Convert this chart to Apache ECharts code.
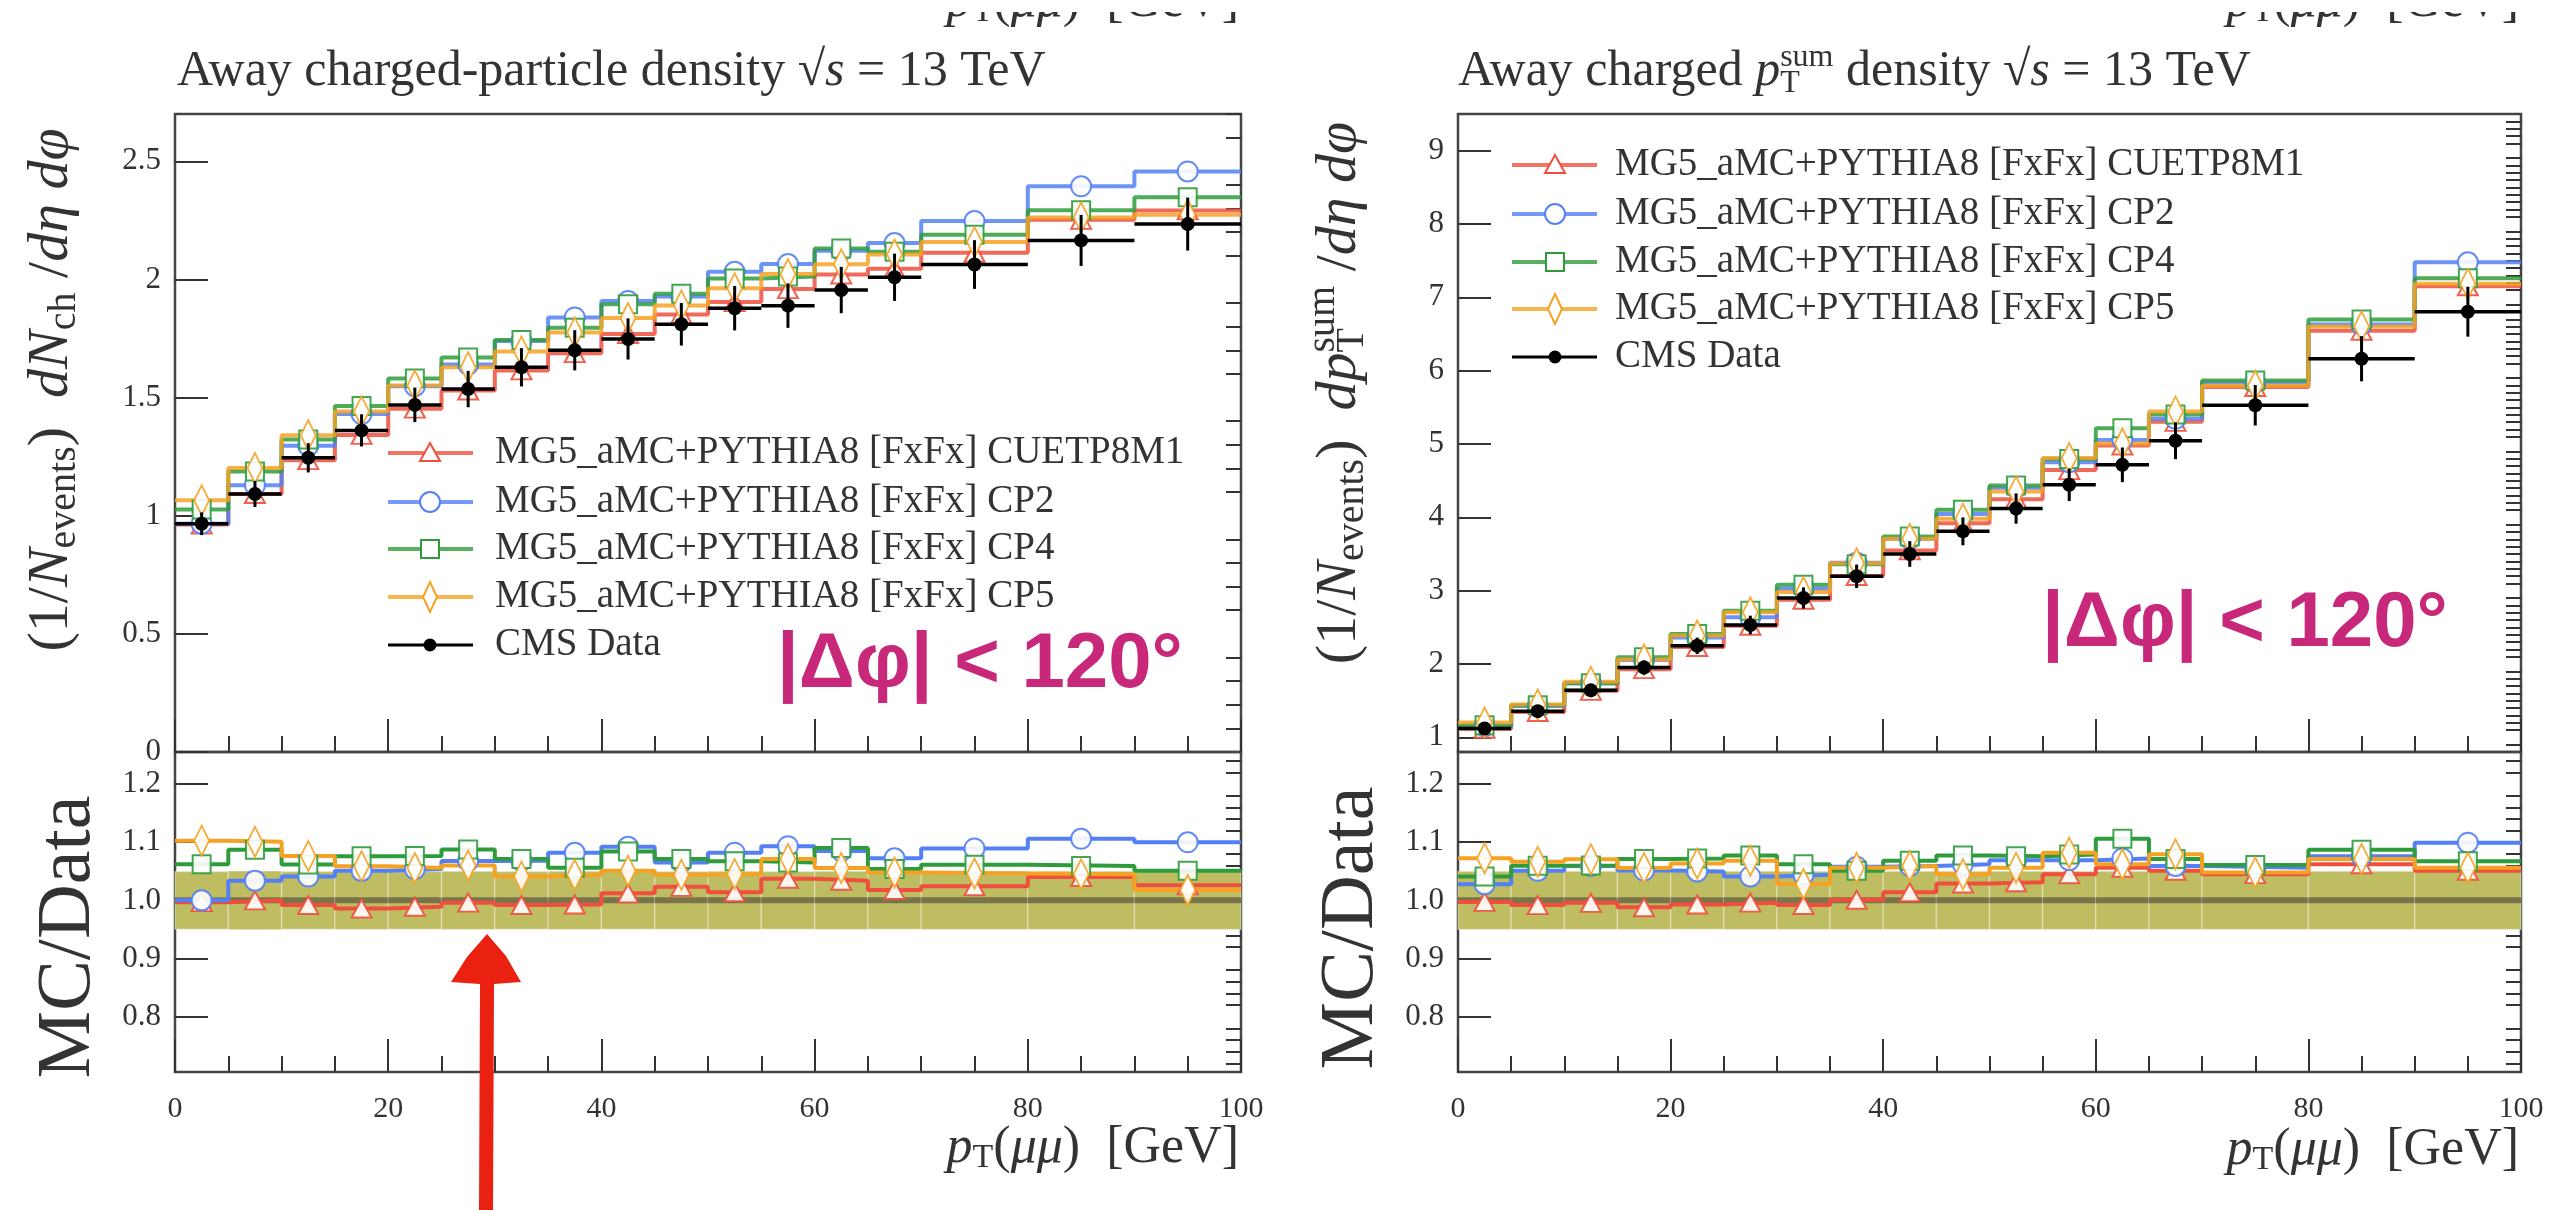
<!DOCTYPE html>
<html><head><meta charset="utf-8">
<script src="https://cdn.jsdelivr.net/npm/echarts@6/dist/echarts.min.js"></script>
<style>html,body{margin:0;padding:0;background:#fff}#c{width:2574px;height:1210px}</style>
</head><body><div id="c"></div>
<script>
// ---------- DATA ----------
const binEdges = [0,5,10,15,20,25,30,35,40,45,50,55,60,65,70,80,90,100];
const mcNames = ['MG5_aMC+PYTHIA8 [FxFx] CUETP8M1','MG5_aMC+PYTHIA8 [FxFx] CP2','MG5_aMC+PYTHIA8 [FxFx] CP4','MG5_aMC+PYTHIA8 [FxFx] CP5'];
const dataName = 'CMS Data';

// Left: away charged-particle density
const nchData    = [0.966,1.092,1.245,1.361,1.469,1.536,1.628,1.700,1.748,1.810,1.878,1.889,1.955,2.009,2.063,2.165,2.234];
const nchDataErr = [0.048,0.055,0.062,0.068,0.073,0.077,0.081,0.085,0.087,0.090,0.094,0.094,0.098,0.100,0.103,0.108,0.112];
const nchCUETP8M1 = [0.963,1.092,1.235,1.342,1.453,1.530,1.615,1.688,1.769,1.852,1.904,1.959,2.021,2.045,2.113,2.252,2.292];
const nchCP2      = [0.966,1.129,1.296,1.430,1.548,1.640,1.739,1.839,1.909,1.928,2.032,2.065,2.121,2.154,2.247,2.394,2.457];
const nchCP4      = [1.026,1.187,1.322,1.464,1.581,1.670,1.744,1.795,1.895,1.939,2.004,2.012,2.131,2.117,2.189,2.293,2.348];
const nchCP5      = [1.065,1.202,1.340,1.441,1.551,1.628,1.695,1.775,1.837,1.890,1.963,2.023,2.064,2.105,2.158,2.262,2.274];

// Right: away charged pT-sum density
const ptsData    = [1.120,1.357,1.641,1.953,2.248,2.532,2.900,3.196,3.500,3.809,4.120,4.444,4.716,5.045,5.528,6.163,6.804];
const ptsDataErr = [0.056,0.068,0.082,0.098,0.112,0.127,0.145,0.160,0.175,0.190,0.206,0.222,0.236,0.252,0.276,0.308,0.340];
const ptsCUETP8M1 = [1.117,1.346,1.634,1.930,2.232,2.522,2.877,3.199,3.549,3.919,4.248,4.644,4.980,5.302,5.777,6.545,7.151];
const ptsCP2      = [1.151,1.426,1.738,2.053,2.360,2.636,3.028,3.381,3.707,4.045,4.404,4.751,5.056,5.343,5.838,6.631,7.478];
const ptsCP4      = [1.166,1.438,1.739,2.092,2.410,2.727,3.080,3.359,3.738,4.102,4.433,4.795,5.216,5.403,5.865,6.699,7.260];
const ptsCP5      = [1.201,1.447,1.757,2.062,2.390,2.704,2.981,3.375,3.707,3.980,4.351,4.808,5.008,5.444,5.793,6.601,7.185];

// Axis ticks / labels
const xTicks = [0,20,40,60,80,100];
const nchMajor = [0,0.5,1,1.5,2,2.5];
const ptsMajor = [1,2,3,4,5,6,7,8,9];
const ratioMajor = [0.8,0.9,1.0,1.1,1.2];

// ---------- STYLE ----------
const colors = ['#ef4f3c','#5380f5','#2f9c3b','#f5a224'];
const symbols = ['triangle','circle','rect','diamond'];
const symSizes = [[20,18],20,18,[15,30]];
const serif = 'Liberation Serif';
const txt = '#333';

const grids = [
  {left:175, top:114, width:1066, height:638},
  {left:175, top:752, width:1066, height:320},
  {left:1458, top:114, width:1063, height:638},
  {left:1458, top:752, width:1063, height:320}
];
const yRanges = [[0,2.7],[0.705,1.255],[0.8,9.5],[0.705,1.255]];

function range(a,b,s){const r=[];for(let v=a;v<=b+1e-9;v+=s){r.push(+v.toFixed(4));}return r;}
const minorVals = [
  range(0.1,2.7,0.1).filter(v=>!nchMajor.some(m=>Math.abs(m-v)<1e-6)),
  range(0.72,1.24,0.02).filter(v=>!ratioMajor.some(m=>Math.abs(m-v)<1e-6)),
  range(0.9,9.4,0.1).filter(v=>!ptsMajor.some(m=>Math.abs(m-v)<1e-6)),
  range(0.72,1.24,0.02).filter(v=>!ratioMajor.some(m=>Math.abs(m-v)<1e-6))
];
const majorVals = [nchMajor, ratioMajor, ptsMajor, ratioMajor];
const majorFmt = [v=>String(v), v=>v.toFixed(1), v=>String(v), v=>v.toFixed(1)];

const tickLine = {color:'#333', width:2};
const xAxes = grids.map((g,i)=>({
  gridIndex:i, type:'value', min:0, max:100, interval:20,
  axisLine:{show:false},
  axisTick:{show:true, inside:true, length:33, lineStyle:tickLine},
  minorTick:{show:true, splitNumber:4, length:16, lineStyle:tickLine},
  axisLabel:{show: i%2===1, margin:22, fontFamily:serif, fontSize:30, color:txt, customValues:xTicks},
  splitLine:{show:false}, minorSplitLine:{show:false}
}));
const yAxes = [];
grids.forEach((g,i)=>{
  yAxes.push({gridIndex:i, type:'value', min:yRanges[i][0], max:yRanges[i][1],
    axisLine:{show:false},
    axisTick:{show:true, inside:true, length:33, lineStyle:tickLine, customValues:majorVals[i]},
    axisLabel:{show:true, customValues:majorVals[i], formatter:majorFmt[i], margin:14, fontFamily:serif, fontSize:31, color:txt},
    splitLine:{show:false}});
});
grids.forEach((g,i)=>{
  yAxes.push({gridIndex:i, type:'value', min:yRanges[i][0], max:yRanges[i][1],
    axisLine:{show:false},
    axisTick:{show:true, inside:true, length:15, lineStyle:tickLine, customValues:minorVals[i]},
    axisLabel:{show:false}, splitLine:{show:false}});
});

function histPoints(vals){const p=vals.map((v,i)=>[binEdges[i],v]);p.push([binEdges[binEdges.length-1],vals[vals.length-1]]);return p;}
function centerPoints(vals){return vals.map((v,i)=>[(binEdges[i]+binEdges[i+1])/2,v]);}

function dataRender(params, api){
  const lo=api.value(0), hi=api.value(1), y=api.value(2), e=api.value(3), c=(lo+hi)/2;
  const pL=api.coord([lo,y]), pR=api.coord([hi,y]), pT=api.coord([c,y+e]), pB=api.coord([c,y-e]), pC=api.coord([c,y]);
  return {type:'group', children:[
    {type:'line', shape:{x1:pL[0],y1:pL[1],x2:pR[0],y2:pR[1]}, style:{stroke:'#000',lineWidth:3.5}},
    {type:'line', shape:{x1:pT[0],y1:pT[1],x2:pB[0],y2:pB[1]}, style:{stroke:'#000',lineWidth:3}},
    {type:'circle', shape:{cx:pC[0],cy:pC[1],r:7}, style:{fill:'#000'}}
  ]};
}
function bandRender(params, api){
  const lo=api.value(0), hi=api.value(1), e=api.value(2);
  const a=api.coord([lo,1+e]), b=api.coord([hi,1-e]);
  const l=api.coord([lo,1]), r=api.coord([hi,1]);
  return {type:'group', children:[
    {type:'rect', shape:{x:a[0], y:a[1], width:b[0]-a[0], height:b[1]-a[1]}, style:{fill:'#bfbd62', stroke:'rgba(255,255,255,0.3)', lineWidth:1.5}},
    {type:'line', shape:{x1:l[0],y1:l[1],x2:r[0],y2:r[1]}, style:{stroke:'#79744a',lineWidth:6}}
  ]};
}

function panelSeries(mainIdx, ratioIdx, mcs, dat, err){
  const s = [];
  s.push({type:'custom', xAxisIndex:ratioIdx, yAxisIndex:ratioIdx, renderItem:bandRender, z:1, silent:true,
    data: dat.map((d,i)=>[binEdges[i],binEdges[i+1],err[i]/d]), encode:{x:[0,1], y:2}});
  mcs.forEach((vals,k)=>{
    const ratio = vals.map((v,i)=>v/dat[i]);
    s.push({type:'line', name:mcNames[k], xAxisIndex:mainIdx, yAxisIndex:mainIdx, step:'end', data:histPoints(vals),
      symbol:'none', lineStyle:{color:colors[k], width:4, opacity:0.85}, z:2, silent:true});
    s.push({type:'scatter', xAxisIndex:mainIdx, yAxisIndex:mainIdx, data:centerPoints(vals), symbol:symbols[k], symbolSize:symSizes[k],
      itemStyle:{color:'#fff', borderColor:colors[k], borderWidth:2, opacity:0.9}, z:3, silent:true});
    s.push({type:'line', name:mcNames[k], xAxisIndex:ratioIdx, yAxisIndex:ratioIdx, step:'end', data:histPoints(ratio),
      symbol:'none', lineStyle:{color:colors[k], width:4}, z:2, silent:true});
    s.push({type:'scatter', xAxisIndex:ratioIdx, yAxisIndex:ratioIdx, data:centerPoints(ratio), symbol:symbols[k], symbolSize:symSizes[k],
      itemStyle:{color:'#fff', borderColor:colors[k], borderWidth:2, opacity:0.9}, z:3, silent:true});
  });
  s.push({type:'custom', name:dataName, xAxisIndex:mainIdx, yAxisIndex:mainIdx, renderItem:dataRender, z:5, silent:true,
    data: dat.map((d,i)=>[binEdges[i],binEdges[i+1],d,err[i]]), encode:{x:[0,1], y:2}});
  return s;
}

const series = [].concat(
  panelSeries(0,1,[nchCUETP8M1,nchCP2,nchCP4,nchCP5], nchData, nchDataErr),
  panelSeries(2,3,[ptsCUETP8M1,ptsCP2,ptsCP4,ptsCP5], ptsData, ptsDataErr)
);

// ---------- text layout helper (measured runs with sub/superscripts) ----------
const mctx = document.createElement('canvas').getContext('2d');
function fontStr(size, italic){return (italic?'italic ':'')+size+'px "'+serif+'"';}
function measure(t, size, italic){mctx.font=fontStr(size,italic);return mctx.measureText(t).width;}
// parts: {t, size, it, dy, stack}  stack: same x as previous part
function runLayout(parts){
  let x=0, prevX=0, prevW=0; const out=[];
  parts.forEach(p=>{
    const w=measure(p.t,p.size,p.it);
    let px=x;
    if(p.stack){px=prevX; const nx=prevX+Math.max(prevW,w); x=nx; prevW=Math.max(prevW,w);}
    else {prevX=px; prevW=w; x=px+w;}
    out.push({t:p.t, size:p.size, it:p.it, dy:p.dy||0, x:px});
  });
  return {items:out, width:x};
}
function runGroup(parts, x, y, opts){
  const L=runLayout(parts);
  const start = opts.center ? -L.width/2 : 0;
  return {type:'group', x, y, rotation:opts.rotation||0, z:12, children:L.items.map(it=>({
    type:'text', x:start+it.x, y:it.dy, z:12,
    style:{text:it.t, font:fontStr(it.size,it.it), fill:txt, verticalAlign:'middle'}
  }))};
}

function legendMarker(k, cx, cy){
  const st={fill:'#fff', stroke:colors[k], lineWidth:2};
  if(k===0) return {type:'polygon', shape:{points:[[cx,cy-10],[cx+10,cy+8],[cx-10,cy+8]]}, style:st, z:11};
  if(k===1) return {type:'circle', shape:{cx,cy,r:10}, style:st, z:11};
  if(k===2) return {type:'rect', shape:{x:cx-9,y:cy-9,width:18,height:18}, style:st, z:11};
  return {type:'polygon', shape:{points:[[cx,cy-15],[cx+7,cy],[cx,cy+15],[cx-7,cy]]}, style:st, z:11};
}
function legend(x0, x1, xm, xt, ys){
  const els=[];
  mcNames.forEach((n,k)=>{
    els.push({type:'line', shape:{x1:x0,y1:ys[k],x2:x1,y2:ys[k]}, style:{stroke:colors[k], lineWidth:4, opacity:0.8}, z:10});
    els.push(legendMarker(k, xm, ys[k]));
    els.push({type:'text', x:xt, y:ys[k], style:{text:n, font:`39px "${serif}"`, fill:txt, verticalAlign:'middle'}, z:11});
  });
  const y=ys[4];
  els.push({type:'line', shape:{x1:x0,y1:y,x2:x1,y2:y}, style:{stroke:'#000', lineWidth:3}, z:10});
  els.push({type:'circle', shape:{cx:xm,cy:y,r:6.5}, style:{fill:'#000'}, z:11});
  els.push({type:'text', x:xt, y:y, style:{text:dataName, font:`39px "${serif}"`, fill:txt, verticalAlign:'middle'}, z:11});
  return els;
}

const T=50, TS=32;
const leftTitle = [{t:'Away charged-particle density √',size:T},{t:'s',size:T,it:true},{t:' = 13 TeV',size:T}];
const rightTitle = [{t:'Away charged ',size:T},{t:'p',size:T,it:true},{t:'T',size:TS,dy:12},{t:'sum',size:TS,dy:-14,stack:true},
  {t:' density √',size:T},{t:'s',size:T,it:true},{t:' = 13 TeV',size:T}];
const Y=58, YS=40;
const leftYTitle = [{t:'(1/',size:Y},{t:'N',size:Y,it:true},{t:'events',size:YS,dy:12},{t:')  ',size:Y},
  {t:'dN',size:Y,it:true},{t:'ch',size:YS,dy:12},{t:' /',size:Y},{t:'dη dφ',size:Y,it:true}];
const rightYTitle = [{t:'(1/',size:Y},{t:'N',size:Y,it:true},{t:'events',size:YS,dy:12},{t:')  ',size:Y},
  {t:'dp',size:Y,it:true},{t:'T',size:YS,dy:12},{t:'sum',size:YS,dy:-17,stack:true},{t:' /',size:Y},{t:'dη dφ',size:Y,it:true}];
const X=52, XS=34;
const xTitleParts = [{t:'p',size:X,it:true},{t:'T',size:XS,dy:10},{t:'(',size:X},{t:'μμ',size:X,it:true},{t:')  [GeV]',size:X}];
function xTitle(xr, yc){const L=runLayout(xTitleParts);return runGroup(xTitleParts, xr-L.width, yc, {});}

const pink = (x,y)=>({type:'text', x, y, z:12, style:{text:'|Δφ| < 120°', font:'bold 78px "Liberation Sans"', fill:'#c8287a', verticalAlign:'middle'}});

const graphics = [].concat(
  [
    runGroup(leftTitle, 177, 72, {}),
    runGroup(rightTitle, 1458, 72, {}),
    runGroup(leftYTitle, 52, 390, {center:true, rotation:Math.PI/2}),
    runGroup(rightYTitle, 1340, 393, {center:true, rotation:Math.PI/2}),
    {type:'text', x:69, y:937, rotation:Math.PI/2, z:12, style:{text:'MC/Data', font:`76px "${serif}"`, fill:txt, align:'center', verticalAlign:'middle'}},
    {type:'text', x:1352, y:928, rotation:Math.PI/2, z:12, style:{text:'MC/Data', font:`76px "${serif}"`, fill:txt, align:'center', verticalAlign:'middle'}},
    xTitle(1239, 1148), xTitle(2519, 1150),
    xTitle(1239, 2), xTitle(2519, 2),
    {type:'rect', z:13, shape:{x:880,y:0,width:380,height:12}, style:{fill:'#fff'}},
    {type:'rect', z:13, shape:{x:2160,y:0,width:380,height:12}, style:{fill:'#fff'}},
    pink(777, 665), pink(2042, 624),
    {type:'polygon', z:20, shape:{points:[[487,934],[506,956],[521,982],[494,984],[493,1210],[479,1210],[480,984],[451,982],[467,957]]},
      style:{fill:'#ea2010'}}
  ],
  legend(388, 473, 430, 495, [453,502,549,597,645]),
  legend(1512, 1597, 1555, 1615, [165,214,262,309,357])
);

const chart = echarts.init(document.getElementById('c'), null, {renderer:'canvas'});
chart.setOption({
  animation:false,
  backgroundColor:'#fff',
  grid: grids.map(g=>Object.assign({show:true, borderColor:'#444', borderWidth:2.5, backgroundColor:'transparent'}, g)),
  xAxis: xAxes,
  yAxis: yAxes,
  series: series,
  graphic: graphics
});
</script></body></html>
